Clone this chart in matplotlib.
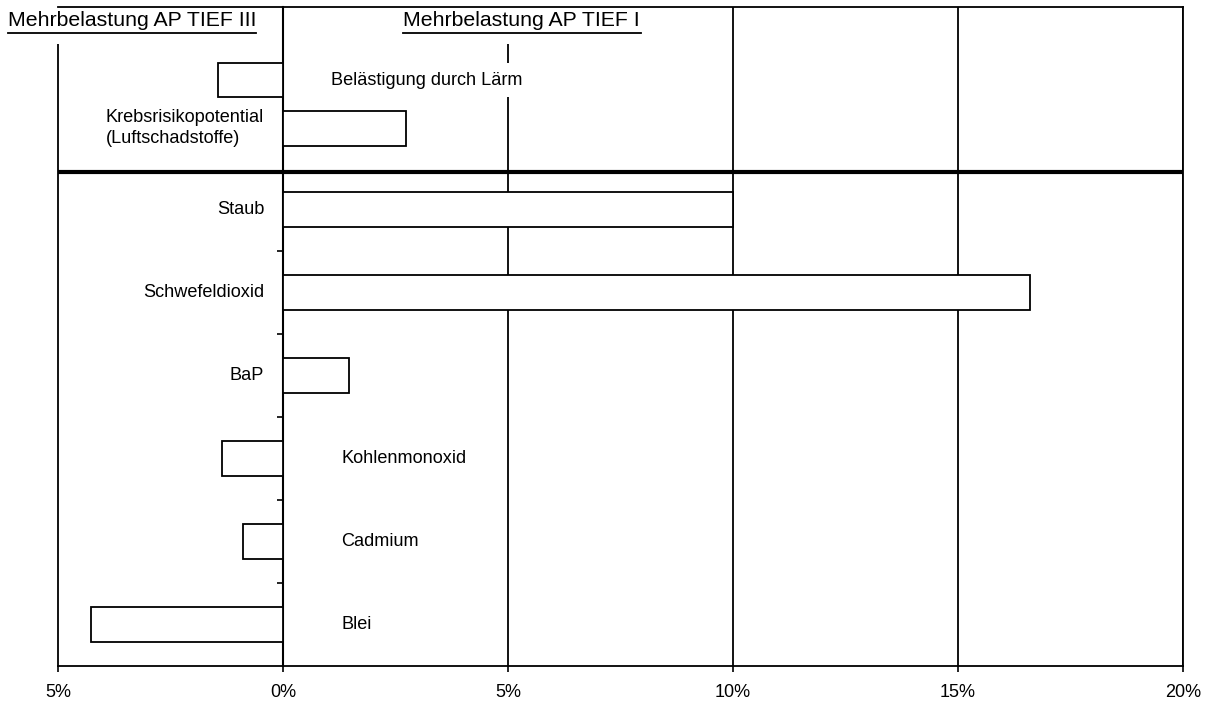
import matplotlib
matplotlib.use("Agg")
import matplotlib.pyplot as plt

plt.rcParams['font.family'] = ['Liberation Sans', 'DejaVu Sans']

# lower block (AP TIEF I), bottom to top
low_names = ['Blei', 'Cadmium', 'Kohlenmonoxid', 'BaP', 'Schwefeldioxid', 'Staub']
low_values = [-4.27, -0.89, -1.36, 1.47, 16.6, 10.0]
# upper block, bottom to top
top_names = ['Krebsrisikopotential\n(Luftschadstoffe)', 'Belästigung durch Lärm']
top_values = [2.73, -1.44]

xticks = [-5, 0, 5, 10, 15, 20]
xticklabels = ['5%', '0%', '5%', '10%', '15%', '20%']

title_left = 'Mehrbelastung AP TIEF III'
title_right = 'Mehrbelastung AP TIEF I'

fig = plt.figure(figsize=(12.13, 7.01), dpi=100)
ax = fig.add_axes([58 / 1213, 1 - 666 / 701, (1183 - 58) / 1213, (666 - 7) / 701])

n_low = len(low_names)
low_y = list(range(n_low))
top_y = [n_low - 1 + 0.98 + 0.58 * i for i in range(len(top_names))]
bh = 0.42

ax.barh(low_y, low_values, height=bh, color='white', edgecolor='black', linewidth=1.3, zorder=3)
ax.barh(top_y, top_values, height=bh, color='white', edgecolor='black', linewidth=1.3, zorder=3)

ax.set_xlim(-5, 20)
ax.set_ylim(-0.5, 7.44)
ax.set_xticks(xticks)
ax.set_xticklabels(xticklabels)
ax.tick_params(axis='x', direction='out', length=4, width=1.2, pad=9, labelsize=13)
ax.set_yticks([])

for v in xticks[2:]:
    ax.axvline(v, color='black', linewidth=1.3, zorder=1)

for s in ['left', 'bottom', 'top', 'right']:
    ax.spines[s].set_linewidth(1.3)
ax.spines['top'].set_zorder(6)

# zero line with category ticks
sec = ax.secondary_yaxis(0.2)
sec.set_yticks([i + 0.5 for i in range(n_low - 1)])
sec.tick_params(direction='out', length=4, width=1.2, labelleft=False, labelright=False)
sec.spines['left'].set_linewidth(1.5)

# separator between blocks
ax.axhline(n_low - 0.55, color='black', linewidth=3, zorder=4)

# labels
for name, v, y in zip(low_names + top_names, low_values + top_values, low_y + top_y):
    if v < 0:
        ax.text(1.3 if y < n_low else 1.07, y, name, ha='left', va='center',
                fontsize=13.1, zorder=5,
                bbox=dict(facecolor='white', edgecolor='none', pad=6))
    else:
        ax.text(-0.42, y, name, ha='right', va='center', fontsize=13.1,
                multialignment='left', linespacing=1.35, zorder=5)

# titles on white boxes that hide the spine / gridline below them
ax.text(8 / 1213, 1 - 21 / 701, title_left, transform=fig.transFigure, ha='left',
        va='center', fontsize=15.3, zorder=5, clip_on=False,
        bbox=dict(facecolor='white', edgecolor='none', pad=10))
ax.text(403 / 1213, 1 - 21 / 701, title_right, transform=fig.transFigure, ha='left',
        va='center', fontsize=15.3, zorder=5, clip_on=False,
        bbox=dict(facecolor='white', edgecolor='none', pad=10))
# underlines
fig.add_artist(plt.Line2D([8 / 1213, 256 / 1213], [1 - 33 / 701] * 2, color='black', linewidth=1.3))
fig.add_artist(plt.Line2D([403 / 1213, 641 / 1213], [1 - 33 / 701] * 2, color='black', linewidth=1.3))

fig.savefig('out.png', dpi=100, facecolor='white')
